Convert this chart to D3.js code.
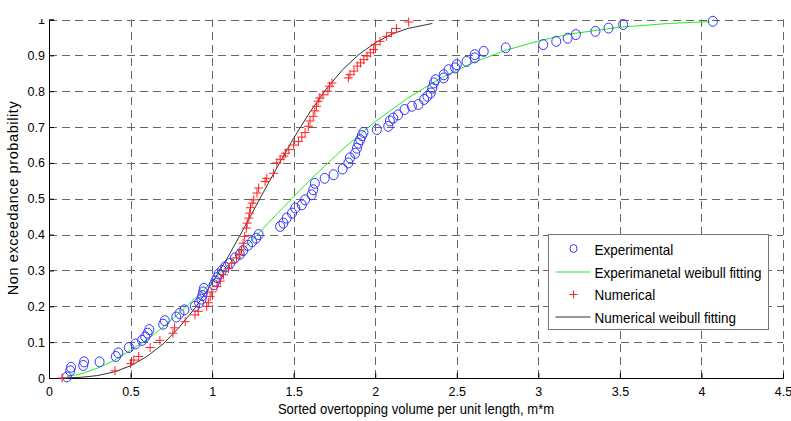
<!DOCTYPE html>
<html>
<head>
<meta charset="utf-8">
<script src="https://cdn.jsdelivr.net/npm/d3@7"></script>
<style>
  body { margin: 0; background: #fff; }
  svg { display: block; font-family: "Liberation Sans", Arial, sans-serif; }
</style>
</head>
<body>
<svg width="791" height="421"></svg>
<script>
// experimental sorted volumes and their non exceedance probability
var expX = [0.11,0.13,0.135,0.21,0.215,0.31,0.41,0.425,0.49,0.53,
  0.57,0.59,0.605,0.615,0.70,0.71,0.78,0.80,0.83,0.895,
  0.92,0.935,0.94,0.945,0.95,1.01,1.02,1.03,1.04,1.06,
  1.08,1.11,1.14,1.17,1.19,1.22,1.245,1.27,1.285,1.417,
  1.437,1.457,1.49,1.51,1.55,1.57,1.61,1.62,1.63,1.69,
  1.745,1.80,1.835,1.845,1.877,1.888,1.897,1.908,1.918,1.928,
  2.01,2.08,2.09,2.11,2.14,2.18,2.225,2.265,2.30,2.32,
  2.34,2.35,2.36,2.37,2.42,2.42,2.45,2.49,2.50,2.56,
  2.61,2.61,2.665,2.80,3.03,3.11,3.18,3.23,3.35,3.43,
  3.52,4.07];
var expP = [0.003,0.02,0.03,0.035,0.045,0.045,0.06,0.07,0.085,0.095,
  0.105,0.115,0.125,0.135,0.15,0.16,0.17,0.18,0.19,0.20,
  0.21,0.22,0.23,0.24,0.25,0.26,0.27,0.28,0.29,0.30,
  0.31,0.32,0.335,0.345,0.355,0.37,0.38,0.39,0.40,0.423,
  0.432,0.446,0.46,0.474,0.483,0.497,0.511,0.525,0.543,0.557,
  0.567,0.583,0.60,0.614,0.627,0.641,0.655,0.665,0.676,0.685,
  0.693,0.702,0.717,0.725,0.734,0.749,0.758,0.763,0.777,0.786,
  0.795,0.809,0.823,0.832,0.837,0.846,0.86,0.865,0.874,0.883,
  0.893,0.902,0.911,0.921,0.93,0.939,0.948,0.958,0.967,0.976,
  0.986,0.995];

// numerical sorted volumes
var numX = [0.08,0.405,0.50,0.52,0.55,0.62,0.68,0.76,0.77,0.835,
  0.895,0.915,0.967,0.977,0.988,0.998,1.03,1.05,1.07,1.10,
  1.12,1.15,1.17,1.18,1.19,1.20,1.21,1.215,1.225,1.23,
  1.235,1.245,1.255,1.275,1.285,1.325,1.335,1.376,1.397,1.417,
  1.44,1.45,1.47,1.50,1.53,1.55,1.57,1.59,1.60,1.62,
  1.63,1.64,1.65,1.66,1.68,1.71,1.72,1.735,1.835,1.845,
  1.87,1.89,1.91,1.93,1.95,1.97,1.99,2.00,2.03,2.07,
  2.10,2.13,2.205];
var numP = [0.0,0.02,0.04,0.05,0.06,0.085,0.105,0.125,0.14,0.157,
  0.176,0.186,0.20,0.21,0.227,0.24,0.255,0.27,0.288,0.305,
  0.32,0.335,0.345,0.357,0.376,0.395,0.418,0.432,0.446,0.46,
  0.475,0.488,0.497,0.516,0.53,0.548,0.557,0.571,0.60,0.61,
  0.619,0.627,0.637,0.65,0.66,0.672,0.685,0.702,0.717,0.73,
  0.745,0.758,0.772,0.781,0.79,0.80,0.814,0.823,0.837,0.846,
  0.856,0.87,0.879,0.888,0.898,0.907,0.916,0.93,0.939,0.953,
  0.963,0.975,0.993];

// weibull fitting curves
var expFitX = [0.11,0.2,0.3,0.4,0.5,0.6,0.7,0.8,0.9,1.0,1.2,1.4,1.6,1.8,2.0,2.2,2.4,2.6,2.8,3.0,3.2,3.5,3.8,4.05];
var expFitP = [0.004,0.012,0.028,0.049,0.078,0.107,0.142,0.182,0.224,0.269,0.363,0.459,0.552,0.638,0.715,0.781,0.836,0.880,0.914,0.940,0.960,0.9785,0.989,0.994];
var numFitX = [0.08,0.2,0.3,0.4,0.5,0.6,0.7,0.8,0.9,1.0,1.1,1.2,1.3,1.4,1.5,1.6,1.7,1.8,1.9,2.0,2.1,2.2,2.35];
var numFitP = [0.0,0.002,0.007,0.017,0.034,0.060,0.095,0.142,0.198,0.265,0.340,0.422,0.506,0.589,0.669,0.742,0.806,0.860,0.9025,0.935,0.959,0.975,0.989];

var xTicks = [0,0.5,1,1.5,2,2.5,3,3.5,4,4.5];
var yTicks = [0,0.1,0.2,0.3,0.4,0.5,0.6,0.7,0.8,0.9,1];
var yTickLabels = ["0","0.1","0.2","0.3","0.4","0.5","0.6","0.7","0.8","0.9","1"];

var legendNames = ["Experimental","Experimanetal weibull fitting","Numerical","Numerical weibull fitting"];

(function () {
  var svg = d3.select("svg");
  var pl = 49, pr = 783, pt = 19.5, pb = 378;

  var x = d3.scaleLinear().domain([0, 4.5]).range([pl, pr]);
  var y = d3.scaleLinear().domain([0, 1]).range([pb, pt]);

  // dashed grid
  var grid = svg.append("g").attr("stroke", "#666").attr("stroke-dasharray", "8,5").attr("stroke-width", 1);
  grid.selectAll("line.gx").data(xTicks.slice(1)).enter().append("line")
    .attr("x1", d => Math.round(x(d)) + 0.5).attr("x2", d => Math.round(x(d)) + 0.5)
    .attr("y1", pb).attr("y2", pt);
  grid.selectAll("line.gy").data(yTicks.slice(1)).enter().append("line")
    .attr("x1", pl).attr("x2", pr)
    .attr("y1", d => Math.round(y(d)) + 0.5).attr("y2", d => Math.round(y(d)) + 0.5);

  // axes
  var xAxis = svg.append("g")
    .attr("transform", "translate(0," + pb + ")")
    .call(d3.axisBottom(x).tickValues(xTicks).tickSize(-5).tickPadding(9).tickFormat(d => String(d)));
  var yAxis = svg.append("g")
    .attr("transform", "translate(" + pl + ",0)")
    .call(d3.axisLeft(y).tickValues(yTicks).tickSize(-5).tickPadding(4).tickFormat((d, i) => yTickLabels[i]));

  [xAxis, yAxis].forEach(function (a) {
    a.select(".domain").attr("stroke", "#000");
    a.selectAll(".tick line").attr("stroke", "#000");
    a.selectAll("text").attr("font-size", 12.5).attr("fill", "#000").attr("font-family", "Liberation Sans, Arial, sans-serif");
  });

  // the "1" label is cut at the top of the figure
  svg.append("clipPath").attr("id", "topcut").append("rect")
    .attr("x", -60).attr("y", pt - 0.5).attr("width", 80).attr("height", 400);
  yAxis.attr("clip-path", "url(#topcut)");

  // fitting lines
  var line = d3.line().x(d => x(d[0])).y(d => y(d[1]));
  svg.append("path")
    .datum(expFitX.map((v, i) => [v, expFitP[i]]))
    .attr("fill", "none").attr("stroke", "#22ee22").attr("stroke-width", 1)
    .attr("d", line);
  svg.append("path")
    .datum(numFitX.map((v, i) => [v, numFitP[i]]))
    .attr("fill", "none").attr("stroke", "#333").attr("stroke-width", 1)
    .attr("d", line);

  // experimental points
  svg.append("g").selectAll("ellipse")
    .data(expX.map((v, i) => [v, expP[i]]))
    .enter().append("ellipse")
    .attr("cx", d => x(d[0])).attr("cy", d => y(d[1]))
    .attr("rx", 4.5).attr("ry", 5)
    .attr("fill", "none").attr("stroke", "#3333ff").attr("stroke-width", 1);

  // numerical points
  var plus = "M-4.5,0H4.5M0,-4.5V4.5";
  svg.append("g").selectAll("path")
    .data(numX.map((v, i) => [v, numP[i]]))
    .enter().append("path")
    .attr("transform", d => "translate(" + x(d[0]) + "," + y(d[1]) + ")")
    .attr("d", plus)
    .attr("stroke", "#ff2222").attr("stroke-width", 1).attr("fill", "none");

  // axis titles (the original font is a bit condensed)
  svg.append("text")
    .attr("transform", "translate(416,414) scale(0.87,1)")
    .attr("text-anchor", "middle").attr("font-size", 15)
    .text("Sorted overtopping volume per unit length, m*m");
  svg.append("text")
    .attr("transform", "translate(18,198) rotate(-90)")
    .attr("text-anchor", "middle").attr("font-size", 14.5).attr("letter-spacing", 0.6)
    .text("Non exceedance probability");

  // legend
  var lg = svg.append("g").attr("transform", "translate(548.5,234.5)");
  lg.append("rect").attr("width", 220).attr("height", 95)
    .attr("fill", "#fff").attr("stroke", "#777").attr("stroke-width", 1);
  var rowY = [15, 37.5, 60, 82.5];
  legendNames.forEach(function (name, i) {
    var ry = rowY[i];
    if (i === 0) {
      lg.append("ellipse").attr("cx", 25).attr("cy", ry - 1).attr("rx", 3.5).attr("ry", 4)
        .attr("fill", "none").attr("stroke", "#3333ff");
    } else if (i === 2) {
      lg.append("path").attr("transform", "translate(25," + ry + ")").attr("d", "M-4,0H4M0,-4V4")
        .attr("stroke", "#ff2222").attr("fill", "none");
    } else {
      lg.append("line").attr("x1", 7).attr("x2", 42).attr("y1", ry).attr("y2", ry)
        .attr("stroke", i === 1 ? "#22ee22" : "#333");
    }
    lg.append("text").attr("transform", "translate(46," + (ry + 5.5) + ") scale(0.9,1)")
      .attr("font-size", 15).text(name);
  });
})();
</script>
</body>
</html>
